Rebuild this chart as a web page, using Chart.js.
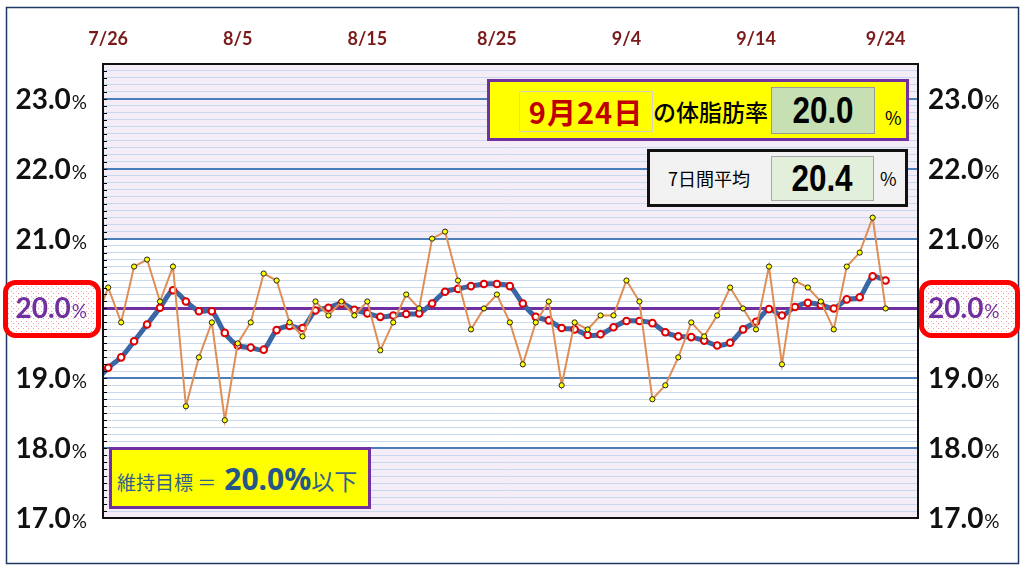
<!DOCTYPE html>
<html lang="ja">
<head>
<meta charset="utf-8">
<title>体脂肪率の推移</title>
<script src="https://cdn.jsdelivr.net/npm/chart.js@4.4.1/dist/chart.umd.min.js"></script>
<style>
  body { margin: 0; background: #fff; font-family: "Noto Sans CJK JP", "Noto Sans", sans-serif; }
  #wrap { position: relative; width: 1024px; height: 570px; overflow: hidden; }
  #chart { position: absolute; left: 0; top: 0; }
  .abs { position: absolute; box-sizing: border-box; white-space: nowrap; }
  .num { font-family: "Liberation Sans", sans-serif; font-weight: bold; color: #000; text-align: center; }
  .num span { display: inline-block; transform: scaleX(0.85); }
</style>
</head>
<body>
<div id="wrap">
  <canvas id="chart" width="1024" height="570"></canvas>

  <!-- today's value -->
  <div class="abs" style="left:487px;top:79px;width:422px;height:62px;background:#ffff00;border:3px solid #7030a0;"></div>
  <div class="abs" id="dateCell" style="left:519px;top:91px;width:134px;height:41px;border:1px solid #d4d4c4;color:#c00000;font-weight:bold;font-size:29px;line-height:39px;text-align:center;letter-spacing:1px;"></div>
  <div class="abs" style="left:653px;top:91px;height:41px;font-size:23px;line-height:41px;color:#000;font-weight:500;">の体脂肪率</div>
  <div class="abs num" style="left:771px;top:87px;width:104px;height:47px;background:#c6e0b4;border:1px solid #9a9a9a;font-size:37px;line-height:45px;"><span id="todayVal"></span></div>
  <div class="abs" style="left:885px;top:106px;font-size:18px;line-height:22px;color:#000;">%</div>

  <!-- 7 day average -->
  <div class="abs" style="left:647px;top:149px;width:261px;height:58px;background:#f2f2f2;border:3px solid #111;"></div>
  <div class="abs" style="left:668px;top:165px;font-size:18px;line-height:26px;color:#000;">7日間平均</div>
  <div class="abs num" style="left:771px;top:156px;width:103px;height:45px;background:#e2efda;border:1px solid #a8a8a8;font-size:37px;line-height:43px;"><span id="avgVal"></span></div>
  <div class="abs" style="left:880px;top:167px;font-size:18px;line-height:22px;color:#000;">%</div>

  <!-- goal -->
  <div class="abs" style="left:109px;top:447px;width:262px;height:62px;background:#ffff00;border:3px solid #7030a0;"></div>
  <div class="abs" id="goalText" style="left:117px;top:458px;height:40px;display:flex;align-items:baseline;color:#2f5f8f;">
    <span style="font-size:19px;">維持目標 ＝ </span>
    <span id="goalVal" style="font-family:'Noto Sans',sans-serif;font-weight:bold;font-size:30px;margin-left:8px;color:#24568a;"></span>
    <span style="font-size:23px;">以下</span>
  </div>
</div>

<script>
// days from 7/25 (clipped at the left edge) to 9/24
let dates = ['7/25', '7/26', '7/27', '7/28', '7/29', '7/30', '7/31', '8/1', '8/2', '8/3', '8/4',
  '8/5', '8/6', '8/7', '8/8', '8/9', '8/10', '8/11', '8/12', '8/13', '8/14',
  '8/15', '8/16', '8/17', '8/18', '8/19', '8/20', '8/21', '8/22', '8/23', '8/24',
  '8/25', '8/26', '8/27', '8/28', '8/29', '8/30', '8/31', '9/1', '9/2', '9/3',
  '9/4', '9/5', '9/6', '9/7', '9/8', '9/9', '9/10', '9/11', '9/12', '9/13',
  '9/14', '9/15', '9/16', '9/17', '9/18', '9/19', '9/20', '9/21', '9/22', '9/23', '9/24']

// daily body fat (%)
let daily = [19.8, 20.3, 19.8, 20.6, 20.7, 20.1, 20.6, 18.6, 19.3, 19.8, 18.4,
  19.5, 19.8, 20.5, 20.4, 19.8, 19.6, 20.1, 19.9, 20.1, 19.9,
  20.1, 19.4, 19.8, 20.2, 20.0, 21.0, 21.1, 20.4, 19.7, 20.0,
  20.2, 19.8, 19.2, 19.8, 20.1, 18.9, 19.8, 19.7, 19.9, 19.9,
  20.4, 20.1, 18.7, 18.9, 19.3, 19.8, 19.6, 19.9, 20.3, 20.0,
  19.7, 20.6, 19.2, 20.4, 20.3, 20.1, 19.7, 20.6, 20.8, 21.3, 20.0]

// 7 day average (%)
let average = [18.95, 19.15, 19.30, 19.53, 19.77, 20.01, 20.26, 20.10, 19.96, 19.96, 19.65,
  19.47, 19.44, 19.41, 19.69, 19.75, 19.72, 19.97, 20.01, 20.07, 19.98,
  19.93, 19.88, 19.90, 19.92, 19.93, 20.07, 20.24, 20.28, 20.32, 20.35,
  20.35, 20.32, 20.07, 19.88, 19.83, 19.72, 19.70, 19.62, 19.63, 19.73,
  19.82, 19.82, 19.79, 19.66, 19.60, 19.59, 19.54, 19.47, 19.51, 19.70,
  19.81, 19.99, 19.90, 20.02, 20.08, 20.05, 20.00, 20.13, 20.16, 20.46, 20.40]

let target = 20.0
let lastDateText = '9月24日'

let xTickLabels = ['7/26', '8/5', '8/15', '8/25', '9/4', '9/14', '9/24']
let yTickValues = [17, 18, 19, 20, 21, 22, 23]
let yTickLabels = ['17.0', '18.0', '19.0', '20.0', '21.0', '22.0', '23.0']

// the html boxes
document.querySelector('#dateCell').textContent = lastDateText
document.querySelector('#todayVal').textContent = daily[daily.length - 1].toFixed(1)
document.querySelector('#avgVal').textContent = average[average.length - 1].toFixed(1)
document.querySelector('#goalVal').textContent = target.toFixed(1) + '%'

// x position of each day: 0 = 7/26
function dayOf(label) {
    return dates.indexOf(label) - 1
}

// small dotted pattern for the 20.0% boxes
let dotCanvas = document.createElement('canvas')
dotCanvas.width = 5
dotCanvas.height = 5
let dctx = dotCanvas.getContext('2d')
dctx.fillStyle = '#fff'
dctx.fillRect(0, 0, 5, 5)
dctx.fillStyle = '#f2a0a8'
dctx.fillRect(1, 1, 1, 1)
dctx.fillRect(3, 3, 1, 1)

function drawPercent(ctx, text, x, y, align, color) {
    ctx.fillStyle = color
    ctx.textBaseline = 'alphabetic'
    ctx.font = 'bold 28px Lato'
    let w1 = ctx.measureText(text).width
    ctx.font = '19px Lato'
    let w2 = ctx.measureText('%').width
    let left = align == 'right' ? x - w1 - w2 : x
    ctx.textAlign = 'left'
    ctx.font = 'bold 28px Lato'
    ctx.fillText(text, left, y + 10)
    ctx.font = '19px Lato'
    ctx.fillText('%', left + w1 + 1, y + 10)
}

let decoPlugin = {
    id: 'deco',
    beforeDraw(chart) {
        let ctx = chart.ctx
        let a = chart.chartArea
        let y = chart.scales.y
        ctx.save()
        ctx.fillStyle = '#fff'
        ctx.fillRect(0, 0, chart.width, chart.height)
        ctx.fillStyle = '#f4edf8'
        ctx.fillRect(a.left, a.top, a.right - a.left, a.bottom - a.top)
        // white band 18 - 21
        let t = y.getPixelForValue(21)
        let b = y.getPixelForValue(18)
        ctx.fillStyle = '#fff'
        ctx.fillRect(a.left, t, a.right - a.left, b - t)
        ctx.restore()
    },
    afterDraw(chart) {
        let ctx = chart.ctx
        let a = chart.chartArea
        let x = chart.scales.x
        let y = chart.scales.y
        ctx.save()

        // small ticks on the left axis
        ctx.strokeStyle = '#000'
        ctx.lineWidth = 1
        y.ticks.forEach(function(t) {
            let py = Math.round(y.getPixelForValue(t.value)) + 0.5
            ctx.beginPath()
            ctx.moveTo(a.left, py)
            ctx.lineTo(a.left + 4, py)
            ctx.stroke()
        })

        // plot frame
        ctx.lineWidth = 2
        ctx.strokeStyle = '#111'
        ctx.strokeRect(a.left, a.top, a.right - a.left, a.bottom - a.top)

        // outer frame
        ctx.lineWidth = 1.5
        ctx.strokeStyle = '#1f3864'
        ctx.strokeRect(6.5, 7.5, 1012, 556)

        // date labels on top
        ctx.fillStyle = '#7b1a1a'
        ctx.font = 'bold 18px Lato'
        ctx.textAlign = 'center'
        ctx.textBaseline = 'alphabetic'
        xTickLabels.forEach(function(lbl) {
            ctx.fillText(lbl, x.getPixelForValue(dayOf(lbl)), 45)
        })

        // percent labels, both sides
        yTickValues.forEach(function(v, i) {
            let py = y.getPixelForValue(v)
            if (v == target) {
                // red boxes for the goal value
                [[3, 98], [919, 101]].forEach(function(bx) {
                    ctx.beginPath()
                    ctx.roundRect(bx[0] + 2.5, py - 26, bx[1] - 5, 53, 10)
                    ctx.fillStyle = ctx.createPattern(dotCanvas, 'repeat')
                    ctx.fill()
                    ctx.lineWidth = 5
                    ctx.strokeStyle = '#ff0000'
                    ctx.stroke()
                })
                drawPercent(ctx, yTickLabels[i], 86, py, 'right', '#7030a0')
                drawPercent(ctx, yTickLabels[i], 928, py, 'left', '#7030a0')
            } else {
                drawPercent(ctx, yTickLabels[i], 86, py, 'right', '#111')
                drawPercent(ctx, yTickLabels[i], 928, py, 'left', '#111')
            }
        })
        ctx.restore()
    }
}

let ctx = document.querySelector('#chart').getContext('2d')

let bodyFatChart = new Chart(ctx, {
    type: 'line',
    data: {
        datasets: [
            {
                label: '体脂肪率',
                data: daily.map(function(v, i) { return {x: dayOf(dates[i]), y: v} }),
                borderColor: '#df8e55',
                borderWidth: 2,
                pointRadius: 2.6,
                pointBackgroundColor: '#ffff00',
                pointBorderColor: '#222',
                pointBorderWidth: 1,
                tension: 0,
                order: 1
            },
            {
                label: '7日間平均',
                data: average.map(function(v, i) { return {x: dayOf(dates[i]), y: v} }),
                borderColor: '#3b66a6',
                borderWidth: 5,
                borderJoinStyle: 'round',
                borderCapStyle: 'round',
                pointRadius: 3.3,
                pointBackgroundColor: '#fff',
                pointBorderColor: '#e00000',
                pointBorderWidth: 2,
                tension: 0.25,
                order: 2
            },
            {
                label: '目標',
                data: [{x: -2, y: target}, {x: 64, y: target}],
                borderColor: '#7030a0',
                borderWidth: 3,
                pointRadius: 0,
                order: 3
            }
        ]
    },
    options: {
        responsive: false,
        animation: false,
        devicePixelRatio: 1,
        layout: { padding: { left: 103, right: 106, top: 64, bottom: 52 } },
        plugins: { legend: { display: false }, tooltip: { enabled: false } },
        scales: {
            x: {
                type: 'linear',
                min: -0.4,
                max: 62.5,
                display: false
            },
            y: {
                min: 17,
                max: 23.5,
                afterBuildTicks: function(scale) {
                    let t = []
                    for (let k = 170; k <= 235; k++) t.push({value: k / 10})
                    scale.ticks = t
                },
                afterFit: function(scale) { scale.width = 0 },
                ticks: { display: false },
                border: { display: false },
                grid: {
                    drawTicks: false,
                    color: function(c) {
                        let v = c.tick.value
                        return Math.abs(v - Math.round(v)) < 0.001 ? '#4a7ebb' : '#c8d9ef'
                    },
                    lineWidth: function(c) {
                        let v = c.tick.value
                        return Math.abs(v - Math.round(v)) < 0.001 ? 2 : 1
                    }
                }
            }
        }
    },
    plugins: [decoPlugin]
})
</script>
</body>
</html>
